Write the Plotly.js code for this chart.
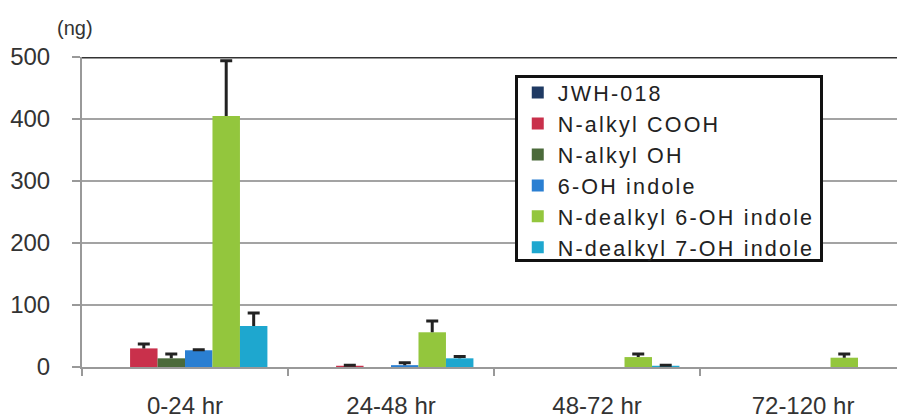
<!DOCTYPE html>
<html>
<head>
<meta charset="utf-8">
<script src="https://cdn.plot.ly/plotly-3.0.1.min.js"></script>
<style>
html,body{margin:0;padding:0;background:#fff;}
.legendtext{letter-spacing:2.2px;}
</style>
</head>
<body>
<div id="chart" style="width:897px;height:418px;"></div>
<script>
const categories = ["0-24 hr", "24-48 hr", "48-72 hr", "72-120 hr"];
const seriesNames = ["JWH-018", "N-alkyl COOH", "N-alkyl OH", "6-OH indole", "N-dealkyl 6-OH indole", "N-dealkyl 7-OH indole"];
const jwh018 = [0, 0, 0, 0];
const jwh018Err = [null, null, null, null];
const nAlkylCOOH = [30, 2, 0, 0];
const nAlkylCOOHErr = [7, 1, null, null];
const nAlkylOH = [14, 0, 0, 0];
const nAlkylOHErr = [7, null, null, null];
const ohIndole6 = [27, 3, 0, 0];
const ohIndole6Err = [1, 4, null, null];
const dealkyl6OH = [405, 56, 16, 15];
const dealkyl6OHErr = [89, 18, 5, 6];
const dealkyl7OH = [66, 14, 2, 0];
const dealkyl7OHErr = [21, 3, 1, null];
const yTicks = [0, 100, 200, 300, 400, 500];

const values = [jwh018, nAlkylCOOH, nAlkylOH, ohIndole6, dealkyl6OH, dealkyl7OH];
const errs = [jwh018Err, nAlkylCOOHErr, nAlkylOHErr, ohIndole6Err, dealkyl6OHErr, dealkyl7OHErr];
const colors = ["#1f3a63", "#c9304b", "#4b6a3a", "#2a7fd2", "#93c63d", "#1ea7cf"];

const traces = seriesNames.map((name, i) => ({
  type: "bar",
  name: name,
  x: categories,
  y: values[i],
  marker: {color: colors[i]},
  error_y: {
    type: "data", symmetric: false,
    array: errs[i].map(e => e === null ? NaN : e),
    arrayminus: errs[i].map(e => e === null ? NaN : 0),
    visible: true, color: "#222", thickness: 3, width: 6
  }
}));

const font = "Arial, 'Liberation Sans', sans-serif";
const layout = {
  width: 897, height: 418,
  margin: {l: 82, r: 0, t: 57, b: 51, pad: 0},
  paper_bgcolor: "#fff", plot_bgcolor: "#fff",
  barmode: "group", bargap: 0.2, bargroupgap: 0,
  showlegend: true,
  legend: {
    x: 0.531, y: 0.961, xanchor: "left", yanchor: "top",
    bgcolor: "#fff", bordercolor: "#111", borderwidth: 3,
    font: {family: font, size: 21.5, color: "#222"},
    traceorder: "normal", itemwidth: 30
  },
  font: {family: font, color: "#333"},
  xaxis: {
    type: "category", range: [-0.5, 3.456],
    showgrid: false, showline: true, linecolor: "#999", linewidth: 2,
    ticks: "outside", tickson: "boundaries", ticklen: 7, tickcolor: "#999", tickwidth: 2,
    tickfont: {family: font, size: 24, color: "#333"},
    ticklabelstandoff: 16, fixedrange: true
  },
  yaxis: {
    range: [0, 500], tickvals: yTicks, ticktext: yTicks.map(String),
    showgrid: true, gridcolor: "#a3a3a3", gridwidth: 2,
    showline: true, linecolor: "#999", linewidth: 2,
    ticks: "outside", ticklen: 8, tickcolor: "#999", tickwidth: 2,
    tickfont: {family: font, size: 24, color: "#333"},
    ticklabelstandoff: 17, zeroline: false, fixedrange: true
  },
  shapes: [
    {type: "line", xref: "paper", yref: "y", x0: 0, x1: 1, y0: 500, y1: 500, line: {color: "#333", width: 3}}
  ],
  annotations: [
    {text: "(ng)", xref: "paper", yref: "paper", x: -0.008, y: 1.095, xanchor: "center", yanchor: "middle",
     showarrow: false, font: {family: font, size: 20, color: "#333"}}
  ]
};

function finishTouches() {
  document.querySelectorAll("#chart .errorbar path.yerror").forEach(p => {
    const d = p.getAttribute("d");
    if (d) p.setAttribute("d", d.replace(/m-?[\d.]+,0h[\d.]+\s*$/, ""));
  });
  const bg = document.querySelector("#chart .legend rect.bg");
  if (bg) {
    const y = parseFloat(bg.getAttribute("y") || "0");
    const h = parseFloat(bg.getAttribute("height"));
    bg.setAttribute("y", y + 6);
    bg.setAttribute("height", h - 15);
  }
}

Plotly.newPlot("chart", traces, layout, {displayModeBar: false, staticPlot: true}).then(finishTouches);
</script>
</body>
</html>
